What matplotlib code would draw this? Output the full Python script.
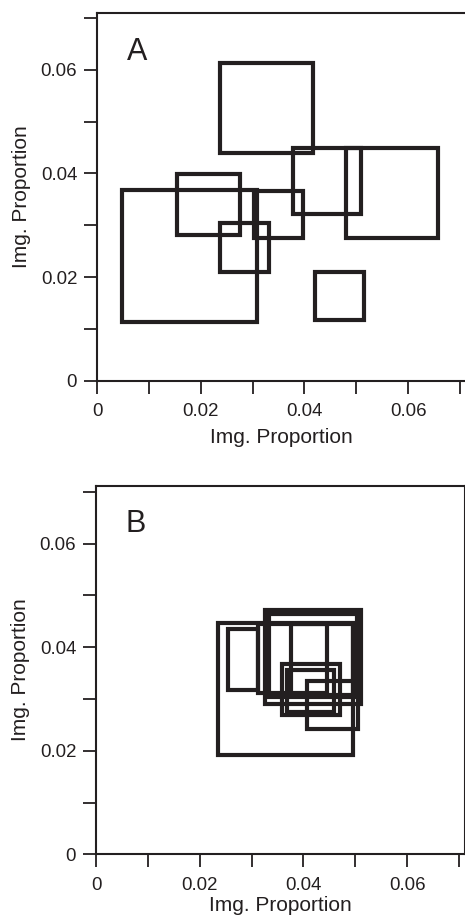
import numpy as np
import matplotlib
matplotlib.use("Agg")
import matplotlib.pyplot as plt
from matplotlib.patches import Rectangle

plt.rcParams['font.family'] = ['Liberation Sans', 'DejaVu Sans']

# panel A boxes (lower-left / upper-right corners, image proportion)
a_x0 = [0.0048, 0.0237, 0.0154, 0.0237, 0.0303, 0.0378, 0.0480, 0.0420]
a_y0 = [0.0114, 0.0439, 0.0281, 0.0210, 0.0275, 0.0321, 0.0275, 0.0117]
a_x1 = [0.0308, 0.0416, 0.0276, 0.0331, 0.0398, 0.0509, 0.0657, 0.0514]
a_y1 = [0.0368, 0.0613, 0.0399, 0.0305, 0.0367, 0.0449, 0.0450, 0.0209]

# panel B boxes
b_x0 = [0.0235, 0.0254, 0.0326, 0.0333, 0.0312, 0.0376, 0.0359, 0.0368, 0.0407]
b_y0 = [0.0192, 0.0317, 0.0290, 0.0304, 0.0311, 0.0308, 0.0269, 0.0275, 0.0242]
b_x1 = [0.0496, 0.0312, 0.0511, 0.0503, 0.0445, 0.0496, 0.0471, 0.0459, 0.0505]
b_y1 = [0.0447, 0.0435, 0.0472, 0.0464, 0.0445, 0.0445, 0.0367, 0.0356, 0.0335]

ticks = [0, 0.01, 0.02, 0.03, 0.04, 0.05, 0.06, 0.07]
tick_labels = ['0', '', '0.02', '', '0.04', '', '0.06', '']
axis_label = "Img. Proportion"

ink = '#231f20'

fig = plt.figure(figsize=(4.65, 9.19), dpi=100)
W, H = 465.0, 919.0


def draw_panel(ax, x0, y0, x1, y1, letter, xmax, ymax, xpad):
    for i in range(len(x0)):
        ax.add_patch(Rectangle((x0[i], y0[i]), x1[i] - x0[i], y1[i] - y0[i],
                               fill=False, edgecolor=ink, linewidth=3.0,
                               joinstyle='miter'))
    ax.set_xlim(0, xmax)
    ax.set_ylim(0, ymax)
    ax.set_xticks(ticks)
    ax.set_xticklabels(tick_labels)
    ax.set_yticks(ticks)
    ax.set_yticklabels(tick_labels)
    ax.tick_params(direction='out', length=9.5, width=1.3, color=ink,
                   labelsize=13.4, labelcolor=ink, pad=5)
    ax.tick_params(axis='x', pad=6.5)
    for sp in ax.spines.values():
        sp.set_linewidth(1.5)
        sp.set_color(ink)
    ax.set_xlabel(axis_label, fontsize=15, color=ink, labelpad=xpad)
    ax.set_ylabel(axis_label, fontsize=15, color=ink, labelpad=7)
    ax.text(0.08, 0.895, letter, transform=ax.transAxes, fontsize=22,
            color=ink, ha='left', va='center')


ax_a = fig.add_axes([97.3 / W, (H - 380.7) / H, 368.8 / W, 367.4 / H])
draw_panel(ax_a, a_x0, a_y0, a_x1, a_y1, 'A', 0.0712, 0.0709, 6)

ax_b = fig.add_axes([96.3 / W, (H - 854.3) / H, 368.8 / W, 368.6 / H])
draw_panel(ax_b, b_x0, b_y0, b_x1, b_y1, 'B', 0.0712, 0.0712, 2)

fig.savefig("out.png", dpi=100)
